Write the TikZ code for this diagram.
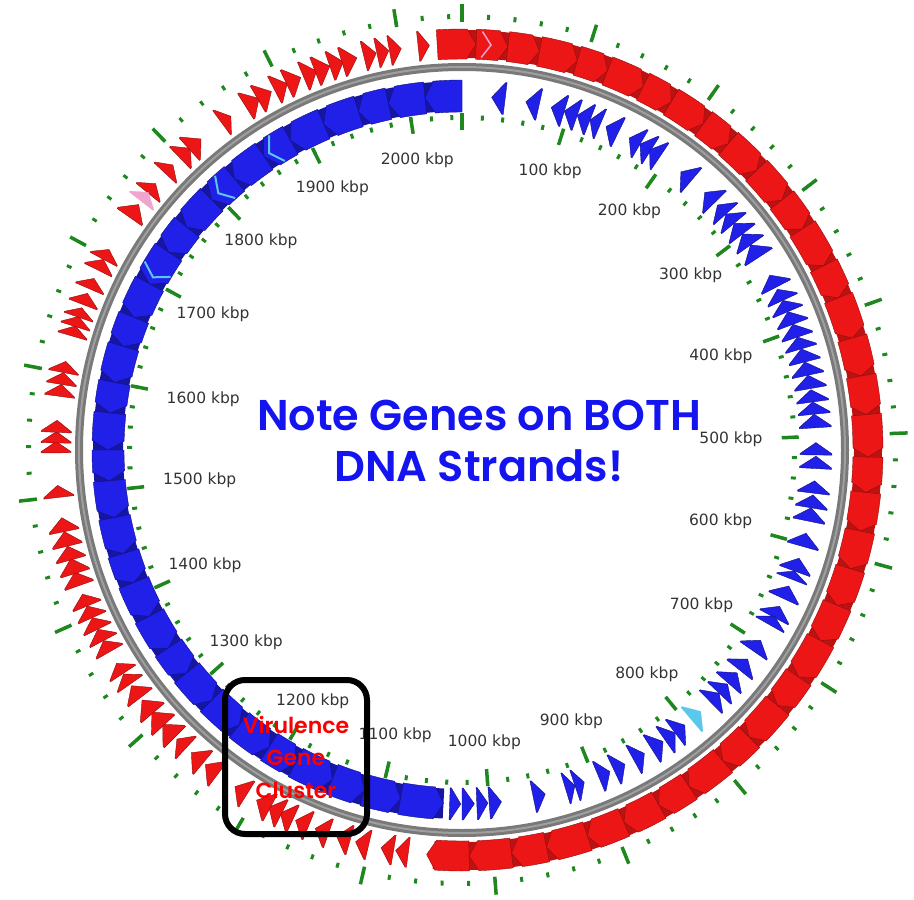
\documentclass[tikz,border=0pt]{standalone}
\usepackage{fontspec}
\setmainfont{DejaVu Sans}
\newfontfamily\comicfont{Poppins}[BoldFont={Poppins SemiBold}]

\definecolor{genered}{RGB}{236,22,22}
\definecolor{geneblue}{RGB}{32,32,232}
\definecolor{genecyan}{RGB}{90,200,235}
\definecolor{genepink}{RGB}{240,165,205}
\definecolor{tickgreen}{RGB}{30,135,30}
\definecolor{notered}{RGB}{250,0,0}
\definecolor{noteblue}{RGB}{20,20,240}

% clockwise gene on the outer ring: start, end (degrees from top), style
\newcommand{\fwdgene}[3]{%
  \pgfmathsetmacro\gA{#1-90}%
  \pgfmathsetmacro\gB{#2-90}%
  \pgfmathsetmacro\gT{\gB-((#2-#1<3) ? 0.9*(#2-#1) : 1.3)}%
  \filldraw[#3] (\gA:391) arc[start angle=\gA, end angle=\gT, radius=391]
    -- (\gB:406) -- (\gT:421) arc[start angle=\gT, end angle=\gA, radius=421] -- cycle;}

% counter-clockwise gene on the inner ring
\newcommand{\revgene}[3]{%
  \pgfmathsetmacro\gA{#1-90}%
  \pgfmathsetmacro\gB{#2-90}%
  \pgfmathsetmacro\gT{\gA+((#2-#1<3) ? 0.9*(#2-#1) : 1.5)}%
  \filldraw[#3] (\gB:338) arc[start angle=\gB, end angle=\gT, radius=338]
    -- (\gA:354) -- (\gT:370) arc[start angle=\gT, end angle=\gB, radius=370] -- cycle;}

\begin{document}
\begin{tikzpicture}[x=1pt, y=-1pt,
    redgene/.style={fill=genered, draw=genered!60!black, line width=0.4pt},
    bluegene/.style={fill=geneblue, draw=geneblue!55!black, line width=0.4pt},
    pinkgene/.style={fill=genepink, draw=genepink, line width=0.3pt},
    tick/.style={tickgreen, line width=3pt},
    bigtick/.style={tickgreen, line width=3.5pt},
    kbplabel/.style={inner sep=1pt, text=black!80, font=\fontsize{15.5}{17}\selectfont},
    virbox/.style={draw, line width=6pt, rounded corners=20pt, minimum width=142pt,
      minimum height=154pt, align=center, text=notered,
      font=\comicfont\bfseries\fontsize{22}{32.5}\selectfont},
    notetext/.style={align=center, text=noteblue,
      font=\comicfont\bfseries\fontsize{43}{51}\selectfont}
]
\useasboundingbox (0,0) rectangle (914,900);

\begin{scope}[shift={(462,450)}]
% backbone
\draw[gray!95!black, line width=8pt] (0,0) circle[radius=383];
\draw[gray!75, line width=2pt] (0,0) circle[radius=383];

% tick marks
\foreach \k in {0,20,...,2040} {
  \pgfmathsetmacro\ang{\k/2050*360-90}
  \draw[tick] (\ang:431) -- (\ang:436);
  \draw[tick] (\ang:330) -- (\ang:335);
}
\foreach \k in {0,100,...,2000} {
  \pgfmathsetmacro\ang{\k/2050*360-90}
  \draw[bigtick] (\ang:428) -- (\ang:446);
  \draw[bigtick] (\ang:320) -- (\ang:337);
}

% forward strand, outer ring
\fill[genered!80!black] (267:392) arc[start angle=267, end angle=454, radius=392]
  -- (454:420) arc[start angle=454, end angle=267, radius=420] -- cycle;
\foreach \s/\e in {356.5/362, 362/366.5, 366.5/371, 371/376.5, 376.5/381, 381/386.5,
    386.5/391, 391/396.5, 396.5/401, 401/406.5, 406.5/412, 412/417, 417/423, 423/428,
    428/434, 434/439.5, 439.5/445, 445/451, 451/456, 456/461.5, 461.5/467, 467/472.5,
    472.5/478, 478/484, 484/489, 489/495, 495/500, 500/506, 506/511, 511/516.5,
    516.5/522, 522/528, 528/533, 533/539, 539/545,
    187.6/189.4, 189.7/191.5, 193.3/195.2, 196/198, 199.2/201.2, 202.2/204.2,
    204.6/206.6, 206.4/208.4, 208.2/210.4, 212/214, 217/219.2, 219.6/221.8, 222.8/224.6,
    225/227.5, 227.3/229.8, 229.6/232, 232.4/234.5, 234.8/236.5, 236.6/238.3,
    240.2/242, 242/243.8, 243.8/245.6, 245.6/247.4, 247.4/249.2,
    250.5/252.5, 252.3/254.5, 254.3/256.3, 256.3/258.4, 258.4/260.4, 263.3/265,
    269.6/271.2, 271/272.6, 272.5/274.2, 277.6/279.3, 279.3/281, 281/282.6,
    286.3/287.8, 287.7/289.2, 289.1/290.5, 291/292.7, 293.4/295, 296.3/298, 298/299.6,
    305/307.2, 309.3/311, 313/314.6, 316/318, 317.8/320, 323.7/325.3, 327.8/330,
    329.8/332, 332.5/334.5, 334.4/336.6, 337/339, 338.8/341, 341/343, 342.8/345,
    346/347.8, 347.9/349.6, 349.7/351.4, 353.8/355.4}
  {\fwdgene{\s}{\e}{redgene}}
\fwdgene{307.8}{309.4}{pinkgene}
\draw[genepink, line width=1.5pt] (272.8:393) -- (274.1:406) -- (272.8:419);

% reverse strand, inner ring
\fill[geneblue!70!black] (93:339) arc[start angle=93, end angle=270, radius=339]
  -- (270:369) arc[start angle=270, end angle=93, radius=369] -- cycle;
\foreach \s/\e in {183/190, 190/196, 196/201.5, 201.5/208, 208/213, 213/219, 219/225,
    225/231, 231/236, 236/242, 242/248, 248/253, 253/259, 259/265, 265/270, 270/276,
    276/281, 281/287, 287/292, 292/298, 298/304, 304/309, 309/315, 315/320, 320/326,
    326/331, 331/337, 337/343, 343/348, 348/354, 354/360,
    4.8/7, 10.4/12.6, 14.6/16.8, 16.8/19, 19/21.2, 21.2/23, 24/26.2, 28.2/30.2,
    30.2/32.2, 32/34, 38.2/40.4, 43.3/45.6, 46.2/48.2, 48.2/50.2, 50.2/52.4, 52.4/54.6,
    54.6/57, 60.4/62.6, 63/65, 65/67, 67/69.2, 69.2/71.4, 71.4/73.4, 73.4/75.6,
    75.6/77.8, 77.8/80, 80.2/82.2, 82.2/84.2, 84.2/86.4, 88.8/90.8, 91/93, 95/97,
    97.3/99.4, 99.4/101.6, 103.6/105.8, 107.8/110, 110/111.4, 112.6/114.8, 116.2/118.2,
    118/119.6, 122.5/124.6, 126.2/128.4, 129/131.2, 131.4/133.4, 133.4/135.4,
    141/143, 143/145, 145.4/147.6, 149/151, 152.6/154.6, 155.3/157.3, 159.8/161.4,
    161.4/163, 166.4/168.4, 173.6/175.6, 175.8/177.6, 178/180, 180.2/182}
  {\revgene{\s}{\e}{bluegene}}
\revgene{137.6}{139.6}{fill=genecyan, draw=genecyan}
\foreach \c in {209.2, 226.5, 237} {
  \draw[genecyan, line width=2pt] (\c+1.5:339) -- (\c:354) -- (\c+1.5:369);
}

% scale labels
\foreach \k in {100,200,...,2000} {
  \pgfmathsetmacro\ang{\k/2050*360-90}
  \pgfmathsetmacro\anc{-\ang}
  \node[kbplabel, anchor=\anc] (kbp\k) at (\ang:302) {\k\ kbp};
}
\end{scope}

\node[notetext] (note) at (479,441) {Note Genes on BOTH\\DNA Strands!};
\node[virbox] (virulence) at (296,757) {Virulence\\Gene\\Cluster};
\end{tikzpicture}
\end{document}
